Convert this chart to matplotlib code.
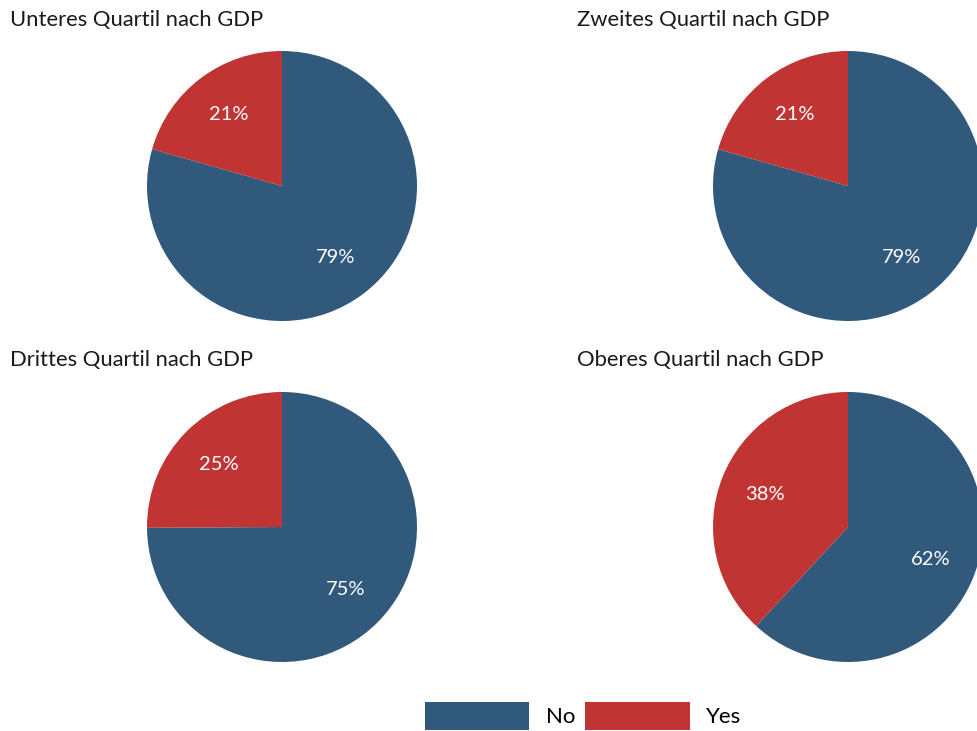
import matplotlib.pyplot as plt
from matplotlib.patches import Patch

plt.rcParams["font.family"] = ["Lato", "DejaVu Sans"]

titles = [
    "Unteres Quartil nach GDP",
    "Zweites Quartil nach GDP",
    "Drittes Quartil nach GDP",
    "Oberes Quartil nach GDP",
]
categories = ["No", "Yes"]
# shares; labels are the rounded values
no_share = [79.4, 79.4, 74.9, 61.9]
yes_share = [20.6, 20.6, 25.1, 38.1]
colors = ["#31597c", "#c03434"]

W, H = 977, 731
fig = plt.figure(figsize=(W / 100, H / 100), dpi=100)

# pie centres and title anchors in pixels
centres = [(282, 186), (848, 186), (282, 527), (848, 527)]
title_pos = [(10, 20), (577, 20), (10, 360), (577, 360)]
r = 135

for i in range(4):
    cx, cy = centres[i]
    ax = fig.add_axes([(cx - r) / W, 1 - (cy + r) / H, 2 * r / W, 2 * r / H])
    vals = [no_share[i], yes_share[i]]
    ax.pie(vals, colors=colors, startangle=90, counterclock=False,
           labels=[f"{v:.0f}%" for v in vals], labeldistance=0.66,
           textprops=dict(color="white", fontsize=14.5, ha="center", va="center"),
           wedgeprops=dict(linewidth=0))
    ax.set_xlim(-1, 1)
    ax.set_ylim(-1, 1)
    ax.set_aspect("equal")
    tx, ty = title_pos[i]
    fig.text(tx / W, 1 - ty / H, titles[i], fontsize=15.8, color="#1a1a1a",
             ha="left", va="center")

handles = [Patch(facecolor=c, edgecolor="none") for c in colors]
fig.legend(handles, categories, loc="center", bbox_to_anchor=(583 / W, 1 - 716 / H),
           ncol=2, frameon=False, fontsize=16, handlelength=4.7, handleheight=1.55,
           handletextpad=0.75, columnspacing=0.45)

fig.savefig("out.png", dpi=100)
